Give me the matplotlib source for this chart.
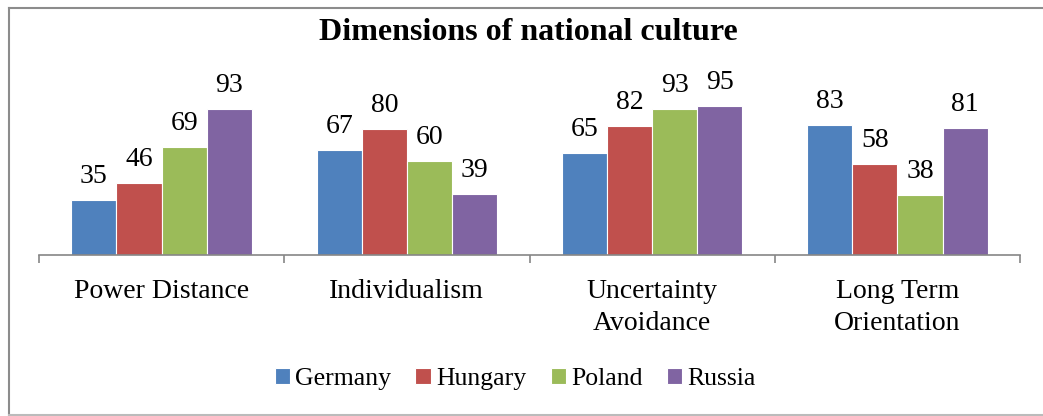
import matplotlib.pyplot as plt
import numpy as np

categories = ["Power Distance", "Individualism", "Uncertainty\nAvoidance", "Long Term\nOrientation"]
countries = ["Germany", "Hungary", "Poland", "Russia"]
germany = [35, 67, 65, 83]
hungary = [46, 80, 82, 58]
poland = [69, 60, 93, 38]
russia = [93, 39, 95, 81]
colors = ["#4F81BD", "#C0504D", "#9BBB59", "#8064A2"]


def main():
    plt.rcParams['font.family'] = ['Liberation Serif', 'DejaVu Serif']
    fig = plt.figure(figsize=(10.43, 4.16), dpi=100)
    ax = fig.add_axes([39 / 1043, 1 - 255 / 416, 981 / 1043, 157 / 416])

    x = np.arange(len(categories))
    w = 0.184
    series = [germany, hungary, poland, russia]
    handles = []
    for i, (vals, name, c) in enumerate(zip(series, countries, colors)):
        bars = ax.bar(x + (i - 1.5) * w, vals, w, color=c, edgecolor="white",
                      linewidth=0.8, label=name, zorder=2)
        ax.bar_label(bars, padding=8, fontsize=20, clip_on=False)
        handles.append(bars)

    ax.set_xlim(-0.5, 3.5)
    ax.set_ylim(0, 100)
    for s in ["top", "right", "left"]:
        ax.spines[s].set_visible(False)
    ax.spines["bottom"].set_color("#868686")
    ax.spines["bottom"].set_linewidth(1.2)
    ax.set_yticks([])

    ax.set_xticks(x)
    ax.set_xticklabels(categories, fontsize=20, linespacing=1.38)
    ax.tick_params(axis="x", which="major", length=0, pad=17)
    ax.set_xticks(np.arange(-0.5, 4, 1), minor=True)
    ax.tick_params(axis="x", which="minor", length=6, color="#868686", width=1.2)

    fig.text(0.507, 1 - 33 / 416, "Dimensions of national culture", ha="center",
             va="center", fontsize=23, fontweight="bold")

    fig.legend(handles=handles, loc="center", bbox_to_anchor=(0.494, 1 - 379 / 416),
               ncol=4, frameon=False, fontsize=18.5, handlelength=0.6, handleheight=0.6,
               handletextpad=0.2, columnspacing=0.95)

    # outer chart border (right edge is cut off in the original)
    fig.add_artist(plt.Line2D([9 / 1043, 9 / 1043], [1 - 8 / 416, 1 - 415 / 416],
                              transform=fig.transFigure, color="#8c8c8c", lw=1.5))
    fig.add_artist(plt.Line2D([9 / 1043, 1], [1 - 8 / 416, 1 - 8 / 416],
                              transform=fig.transFigure, color="#8c8c8c", lw=1.5))
    fig.add_artist(plt.Line2D([9 / 1043, 1], [1 - 415 / 416, 1 - 415 / 416],
                              transform=fig.transFigure, color="#bbbbbb", lw=1.5))

    fig.savefig("out.png", dpi=100)


if __name__ == "__main__":
    main()
